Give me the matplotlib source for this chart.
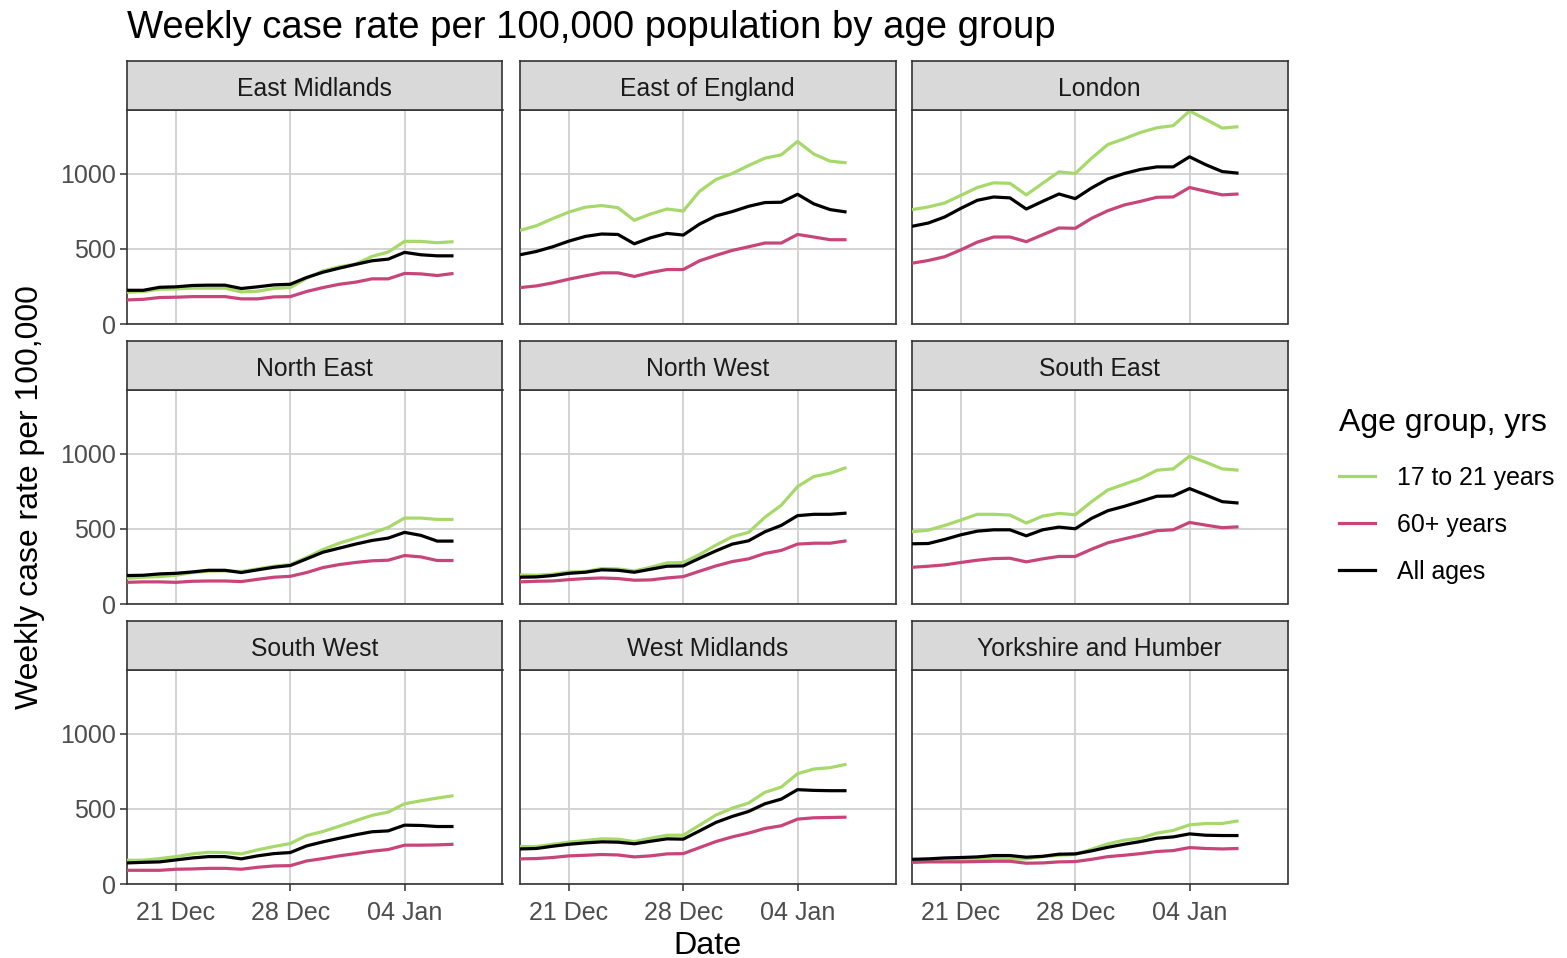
import matplotlib
matplotlib.use("Agg")
import matplotlib.pyplot as plt
import matplotlib.dates as mdates
import numpy as np
import pandas as pd

plt.rcParams['font.family'] = ['Liberation Sans', 'DejaVu Sans']

dates = pd.date_range("2020-12-18", "2021-01-07", freq="D")

regions = ["East Midlands", "East of England", "London",
           "North East", "North West", "South East",
           "South West", "West Midlands", "Yorkshire and Humber"]

groups = ["17 to 21 years", "60+ years", "All ages"]
colors = {"17 to 21 years": "#A6D96A", "60+ years": "#C8457A", "All ages": "#000000"}

east_midlands_17_21 = [211, 216, 231, 233, 238, 238, 238, 213, 218, 236, 242, 304, 353, 380, 398, 449, 478, 549, 549, 540, 547]
east_midlands_60 = [160, 164, 176, 178, 182, 182, 182, 167, 167, 180, 182, 216, 242, 264, 278, 300, 300, 336, 333, 322, 336]
east_midlands_all = [224, 224, 244, 247, 256, 258, 258, 236, 247, 260, 264, 309, 344, 371, 396, 420, 431, 476, 460, 453, 453]

east_england_17_21 = [622, 653, 700, 744, 776, 787, 773, 689, 731, 764, 751, 882, 960, 1000, 1053, 1102, 1124, 1213, 1129, 1082, 1071]
east_england_60 = [242, 253, 273, 298, 320, 340, 340, 316, 342, 362, 362, 420, 456, 489, 513, 538, 538, 595, 578, 560, 560]
east_england_all = [460, 482, 513, 551, 582, 598, 595, 533, 573, 602, 591, 664, 718, 747, 782, 807, 809, 862, 798, 760, 744]

london_17_21 = [760, 778, 804, 855, 907, 938, 935, 858, 935, 1011, 1000, 1102, 1193, 1231, 1273, 1304, 1318, 1415, 1360, 1302, 1311]
london_60 = [404, 422, 447, 493, 544, 578, 578, 547, 593, 638, 636, 702, 753, 791, 815, 842, 844, 907, 882, 858, 864]
london_all = [649, 671, 711, 769, 822, 844, 838, 764, 815, 864, 833, 904, 964, 1000, 1027, 1044, 1044, 1111, 1058, 1013, 1002]

north_east_17_21 = [171, 178, 182, 191, 209, 218, 220, 216, 233, 251, 262, 309, 362, 404, 438, 471, 509, 571, 571, 562, 562]
north_east_60 = [144, 147, 147, 144, 151, 153, 153, 149, 164, 178, 184, 209, 242, 262, 276, 287, 291, 322, 313, 289, 289]
north_east_all = [189, 191, 200, 204, 213, 224, 224, 209, 227, 244, 256, 300, 344, 371, 398, 422, 438, 476, 456, 418, 418]

north_west_17_21 = [193, 191, 198, 213, 216, 236, 233, 220, 244, 273, 276, 329, 391, 447, 476, 576, 656, 780, 847, 869, 907]
north_west_60 = [147, 151, 153, 162, 169, 173, 169, 158, 160, 173, 182, 218, 253, 282, 300, 336, 356, 398, 404, 404, 420]
north_west_all = [178, 180, 189, 204, 211, 227, 224, 211, 231, 251, 253, 304, 353, 398, 420, 480, 522, 587, 596, 596, 604]

south_east_17_21 = [480, 491, 522, 558, 596, 596, 591, 538, 584, 602, 593, 680, 758, 796, 833, 889, 898, 982, 942, 898, 889]
south_east_60 = [244, 251, 260, 276, 291, 302, 304, 280, 300, 316, 316, 364, 407, 433, 458, 487, 493, 542, 524, 507, 513]
south_east_all = [400, 402, 429, 460, 484, 493, 493, 453, 493, 511, 500, 569, 620, 649, 682, 716, 718, 767, 724, 680, 671]

south_west_17_21 = [158, 158, 169, 182, 200, 211, 209, 200, 227, 249, 269, 322, 349, 384, 420, 456, 478, 533, 553, 571, 587]
south_west_60 = [91, 91, 91, 98, 100, 104, 104, 98, 111, 120, 122, 153, 169, 187, 202, 218, 229, 258, 258, 260, 264]
south_west_all = [140, 144, 147, 160, 173, 182, 182, 167, 187, 202, 209, 253, 280, 304, 327, 347, 353, 391, 389, 382, 382]

west_midlands_17_21 = [249, 249, 264, 278, 289, 300, 298, 282, 304, 324, 324, 391, 458, 504, 538, 609, 644, 733, 764, 773, 796]
west_midlands_60 = [167, 169, 176, 187, 191, 196, 193, 180, 187, 200, 202, 242, 282, 313, 338, 369, 387, 431, 440, 442, 444]
west_midlands_all = [233, 236, 251, 264, 273, 280, 278, 267, 284, 300, 298, 353, 409, 449, 482, 533, 564, 627, 622, 620, 620]

yorkshire_17_21 = [147, 153, 153, 158, 164, 169, 167, 167, 182, 191, 196, 231, 267, 291, 304, 338, 356, 393, 402, 402, 420]
yorkshire_60 = [144, 147, 147, 147, 149, 151, 151, 138, 140, 147, 149, 164, 182, 191, 202, 216, 222, 242, 236, 233, 236]
yorkshire_all = [164, 167, 173, 176, 180, 189, 189, 178, 184, 198, 200, 220, 244, 264, 282, 304, 313, 333, 324, 322, 322]

series = {
    "East Midlands": (east_midlands_17_21, east_midlands_60, east_midlands_all),
    "East of England": (east_england_17_21, east_england_60, east_england_all),
    "London": (london_17_21, london_60, london_all),
    "North East": (north_east_17_21, north_east_60, north_east_all),
    "North West": (north_west_17_21, north_west_60, north_west_all),
    "South East": (south_east_17_21, south_east_60, south_east_all),
    "South West": (south_west_17_21, south_west_60, south_west_all),
    "West Midlands": (west_midlands_17_21, west_midlands_60, west_midlands_all),
    "Yorkshire and Humber": (yorkshire_17_21, yorkshire_60, yorkshire_all),
}

y_ticks = [0, 500, 1000]
x_ticks = pd.to_datetime(["2020-12-21", "2020-12-28", "2021-01-04"])
x_tick_labels = ["21 Dec", "28 Dec", "04 Jan"]

W, H = 1567, 958
fig = plt.figure(figsize=(W / 100, H / 100), dpi=100)
fig.patch.set_facecolor("white")

def fig_rect(left, top, width, height):
    return [left / W, (H - top - height) / H, width / W, height / H]

col_left = [127, 520, 912]
panel_w = 375.5
row_top = [110, 390, 670]
panel_h = 214
strip_h = 49

frame_color = "#333333"
grid_color = "#D0D0D0"
tick_text = "#4D4D4D"

xlim = (pd.Timestamp("2020-12-18"), pd.Timestamp("2021-01-10"))
ylim = (0, 1422)

for idx, region in enumerate(regions):
    r, c = divmod(idx, 3)
    ax = fig.add_axes(fig_rect(col_left[c], row_top[r], panel_w, panel_h))
    for g, vals in zip(groups, series[region]):
        ax.plot(dates, vals, color=colors[g], lw=2.3, solid_capstyle="butt", zorder=3)
    ax.set_xlim(*xlim)
    ax.set_ylim(*ylim)
    ax.set_xticks(x_ticks)
    ax.set_yticks(y_ticks)
    ax.grid(True, color=grid_color, lw=1.3, zorder=0)
    ax.set_axisbelow(True)
    for sp in ax.spines.values():
        sp.set_color(frame_color)
        sp.set_linewidth(1.2)
    ax.tick_params(axis="both", colors=frame_color, length=5, width=1.1,
                   labelcolor=tick_text, labelsize=18)
    ax.tick_params(axis="y", pad=3)
    ax.tick_params(axis="x", pad=7)
    if c == 0:
        ax.set_yticklabels([str(v) for v in y_ticks])
    else:
        ax.tick_params(axis="y", length=0, labelleft=False)
    if r == 2:
        ax.set_xticklabels(x_tick_labels)
    else:
        ax.tick_params(axis="x", length=0, labelbottom=False)

    sax = fig.add_axes(fig_rect(col_left[c], row_top[r] - strip_h, panel_w, strip_h))
    sax.set_facecolor("#D9D9D9")
    sax.set_xticks([])
    sax.set_yticks([])
    for sp in sax.spines.values():
        sp.set_color(frame_color)
        sp.set_linewidth(1.2)
    sax.text(0.5, 0.43, region, ha="center", va="center", fontsize=17.8,
             color="#1A1A1A", transform=sax.transAxes)

fig.text(127 / W, 1 - 28 / H, "Weekly case rate per 100,000 population by age group",
         ha="left", va="center", fontsize=27.5, color="black")
fig.text(708 / W, 1 - 946 / H, "Date", ha="center", va="center", fontsize=23.3, color="black")
fig.text(30 / W, 1 - 497 / H, "Weekly case rate per 100,000", ha="center", va="center",
         rotation=90, fontsize=23, color="black")

handles = [plt.Line2D([], [], color=colors[g], lw=2.3) for g in groups]
leg = fig.legend(handles, groups, title="Age group, yrs", loc="upper left",
                 bbox_to_anchor=(1317 / W, 1 - 386 / H), frameon=False,
                 fontsize=17.9, title_fontsize=23, handlelength=1.45,
                 handletextpad=0.85, labelspacing=0.92)
leg._legend_box.align = "left"
leg._legend_box._children[0].pad = 0
leg._legend_box.sep = 20

fig.savefig("out.png", dpi=100, facecolor="white")
